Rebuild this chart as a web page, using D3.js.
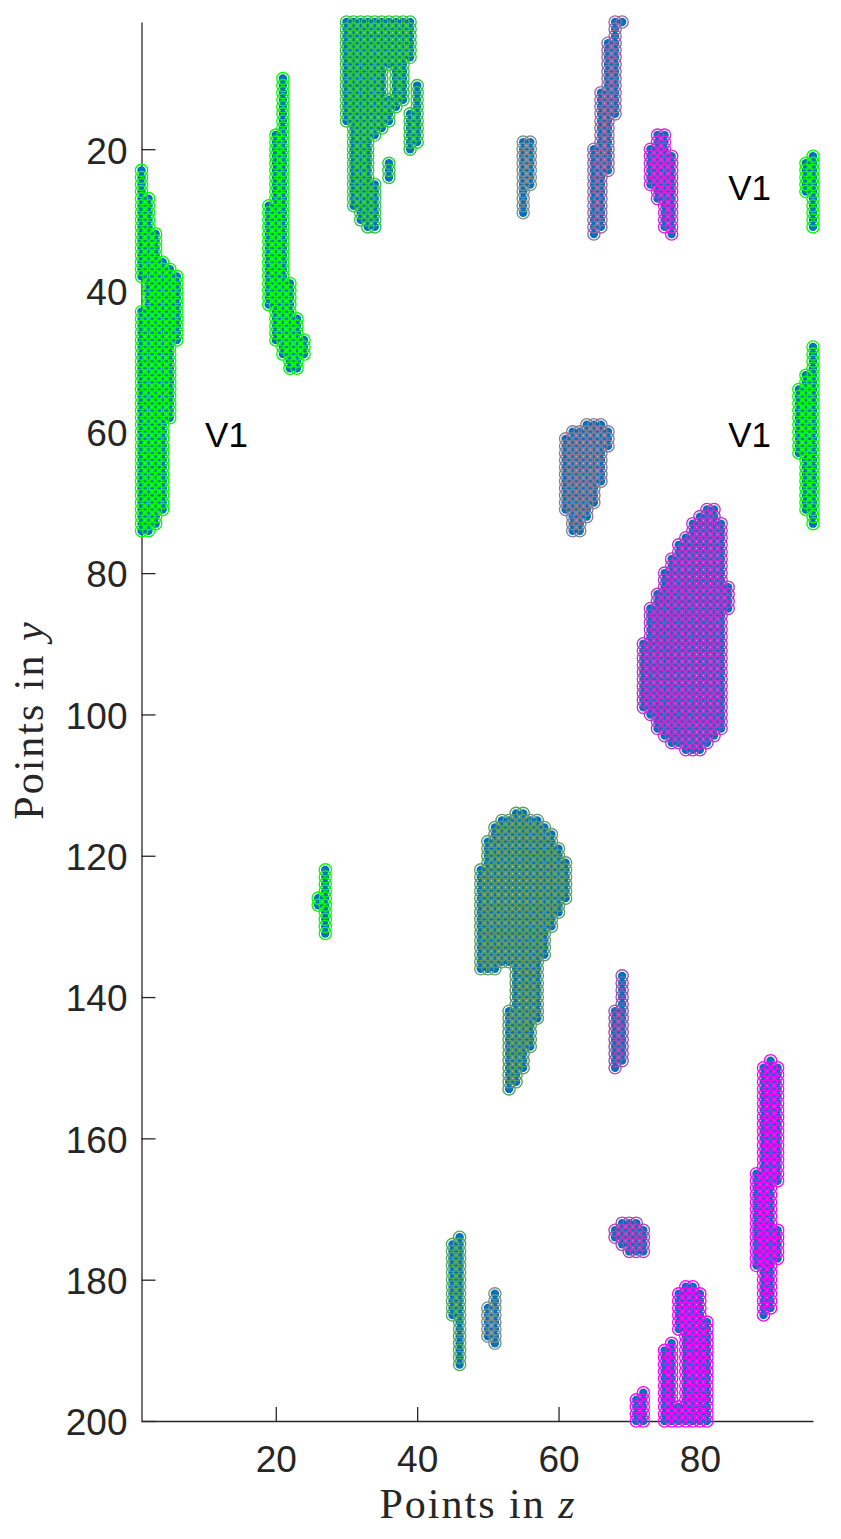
<!DOCTYPE html>
<html>
<head>
<meta charset="utf-8">
<script src="https://cdn.jsdelivr.net/npm/d3@7"></script>
<style>
html, body { margin:0; padding:0; background:#fff; }
svg { display:block; }
</style>
</head>
<body>
<div id="chart-area"></div>
<script>
// each cluster: columns [z, yStart, yEnd], ring colour in ringColors
var clusterA = [[1,23,38],[1,43,74],[2,27,74],[3,32,73],[4,36,71],[5,37,58],[6,38,47]];
var clusterB = [[19,28,42],[20,18,47],[21,10,49],[22,39,51],[23,44,51],[24,47,49]];
var clusterC = [[30,2,16],[31,2,28],[32,2,30],[33,2,31],[34,2,18],[34,25,31],[35,2,17],[36,2,8],[36,13,16],[37,2,14],[38,2,13],[39,2,7]];
var clusterD = [[39,15,20],[40,11,19]];
var clusterE = [[36,22,24]];
var clusterF = [[55,19,29],[56,19,25]];
var clusterG = [[65,20,32],[66,12,31],[67,5,23],[68,2,15],[69,2,2]];
var clusterH = [[73,20,25],[74,18,27],[75,18,31],[76,21,32]];
var clusterI = [[61,61,71],[62,60,74],[63,60,74],[64,59,72],[65,59,70],[66,59,67],[67,60,62]];
var clusterJ = [[72,90,99],[73,85,100],[74,83,102],[75,80,103],[76,78,104],[77,76,104],[78,75,105],[79,73,105],[80,72,105],[81,71,104],[82,71,103],[83,73,102],[84,82,85]];
var clusterK = [[49,122,136],[50,118,136],[51,116,136],[52,115,135],[53,115,135],[53,142,153],[54,114,152],[55,114,150],[56,115,147],[57,115,143],[58,116,134],[59,117,130],[60,119,128],[61,121,126]];
var clusterL = [[68,142,150],[69,137,149]];
var clusterM = [[26,126,127],[27,122,131]];
var clusterN = [[95,22,26],[96,21,31]];
var clusterO = [[94,54,63],[95,52,71],[96,48,73]];
var clusterP = [[45,175,185],[46,174,192]];
var clusterQ = [[50,184,188],[51,182,189]];
var clusterR = [[68,173,174],[69,172,175],[70,172,176],[71,172,176],[72,173,176]];
var clusterS = [[71,197,200],[72,196,200]];
var clusterT = [[75,190,200],[76,189,200],[77,182,187],[77,198,200],[78,181,200],[79,181,200],[80,182,200],[81,186,200]];
var clusterU = [[88,165,178],[89,150,185],[90,149,184],[91,150,166],[91,173,177]];

var clusters = [clusterA,clusterB,clusterC,clusterD,clusterE,clusterF,clusterG,clusterH,clusterI,clusterJ,clusterK,clusterL,clusterM,clusterN,clusterO,clusterP,clusterQ,clusterR,clusterS,clusterT,clusterU];
var ringColors = ["#00ff00","#00ff00","#2fc840","#2fc840","#2fc840","#848c8c","#9a68a0","#e020e0","#8a7a92","#c030d0",
    "#609a60","#a050b0","#00ff00","#00ff00","#00ff00","#50a858","#7f8f88","#b040c0","#ff00ff","#ff00ff","#ff00ff"];

var zTicks = [20,40,60,80];
var yTicks = [20,40,60,80,100,120,140,160,180,200];
var notes = [[10,60],[84,60],[84,25]];

var width = 841, height = 1539;
var x = d3.scaleLinear().domain([1,96]).range([141.5,813]);
var y = d3.scaleLinear().domain([2,200]).range([22,1421]);

var svg = d3.select("#chart-area").append("svg")
    .attr("width", width)
    .attr("height", height);

// axes go under the markers
var yAxis = d3.axisLeft(y).tickValues(yTicks).tickSize(-14).tickPadding(14).tickSizeOuter(0);
var xAxis = d3.axisBottom(x).tickValues(zTicks).tickSize(-14).tickPadding(25).tickSizeOuter(0);

var gy = svg.append("g").attr("transform", "translate(141.5,0)").call(yAxis);
var gx = svg.append("g").attr("transform", "translate(0,1421)").call(xAxis);

[gy, gx].forEach(function(a) {
    a.selectAll("path,line").attr("stroke", "#262626").attr("stroke-width", 1.3);
    a.selectAll("text")
        .attr("fill", "#262626")
        .style("font-family", "'Liberation Sans', Arial, sans-serif")
        .style("font-size", "37px");
});
gy.selectAll("text").attr("y", 2);

// expand columns to single points
var points = [];
clusters.forEach(function(c, i) {
    c.forEach(function(col) {
        d3.range(col[1], col[2] + 1).forEach(function(v) {
            points.push({ z: col[0], y: v, color: ringColors[i] });
        });
    });
});

// filled dots first, rings over them
svg.append("g").selectAll("circle")
    .data(points)
    .join("circle")
    .attr("cx", d => x(d.z))
    .attr("cy", d => y(d.y))
    .attr("r", 4.2)
    .attr("fill", "#0072bd");

svg.append("g").selectAll("circle")
    .data(points)
    .join("circle")
    .attr("cx", d => x(d.z))
    .attr("cy", d => y(d.y))
    .attr("r", 6.1)
    .attr("fill", "none")
    .attr("stroke", d => d.color)
    .attr("stroke-width", 1.35);

svg.append("g").selectAll("text")
    .data(notes)
    .join("text")
    .attr("x", d => x(d[0]))
    .attr("y", d => y(d[1]) + 15)
    .attr("fill", "#000")
    .style("font-family", "'Liberation Sans', Arial, sans-serif")
    .style("font-size", "35px")
    .text("V1");

var xLabel = svg.append("text")
    .attr("x", 478)
    .attr("y", 1518)
    .attr("text-anchor", "middle")
    .attr("fill", "#262626")
    .style("font-family", "'Liberation Serif', serif")
    .style("font-size", "42px")
    .style("letter-spacing", "2px");
xLabel.append("tspan").text("Points in ");
xLabel.append("tspan").style("font-style", "italic").text("z");

var yLabel = svg.append("text")
    .attr("transform", "translate(43,720) rotate(-90)")
    .attr("text-anchor", "middle")
    .attr("fill", "#262626")
    .style("font-family", "'Liberation Serif', serif")
    .style("font-size", "42px")
    .style("letter-spacing", "2px");
yLabel.append("tspan").text("Points in ");
yLabel.append("tspan").style("font-style", "italic").text("y");
</script>
</body>
</html>
